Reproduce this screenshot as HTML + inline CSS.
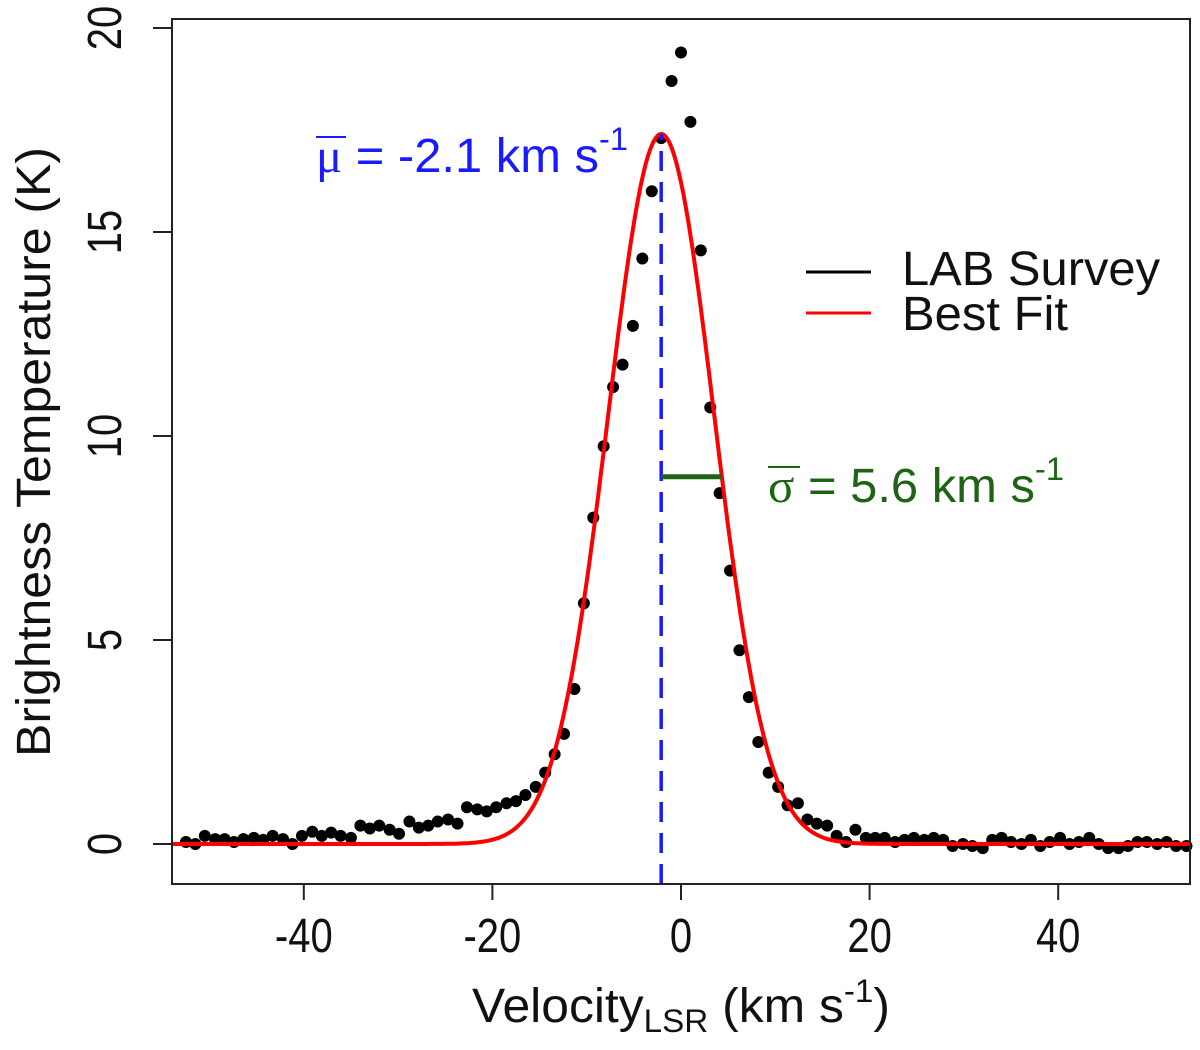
<!DOCTYPE html>
<html><head><meta charset="utf-8"><style>
html,body{margin:0;padding:0;background:#fff;}
svg text{font-family:"Liberation Sans",Arial,sans-serif;}
</style></head><body>
<svg id="chart" width="1200" height="1045" viewBox="0 0 1200 1045" xmlns="http://www.w3.org/2000/svg">
<rect x="0" y="0" width="1200" height="1045" fill="#fff"/>
<g id="marks"></g>
<rect x="172" y="19" width="1018" height="865" fill="none" stroke="#222" stroke-width="2"/>
<g id="axes"></g>
<text x="472" y="1022" font-size="48" fill="#111" textLength="418" lengthAdjust="spacingAndGlyphs">Velocity<tspan font-size="32" dy="10">LSR</tspan><tspan dy="-10"> (km s</tspan><tspan font-size="32" dy="-20">-1</tspan><tspan dy="20">)</tspan></text>
<text transform="translate(50,452) rotate(-90)" font-size="48" text-anchor="middle" fill="#111" textLength="610" lengthAdjust="spacingAndGlyphs">Brightness Temperature (K)</text>
<text x="316" y="172" font-size="48" fill="#1a1aff" textLength="312" lengthAdjust="spacingAndGlyphs"><tspan font-family="Liberation Serif" font-size="48">μ</tspan> = -2.1 km s<tspan font-size="32" dy="-22">-1</tspan></text>
<line x1="316" y1="137" x2="346" y2="137" stroke="#1a1aff" stroke-width="2"/>
<text x="768" y="502" font-size="48" fill="#1e6414" textLength="296" lengthAdjust="spacingAndGlyphs"><tspan font-family="Liberation Serif" font-size="48">σ</tspan> = 5.6 km s<tspan font-size="32" dy="-22">-1</tspan></text>
<line x1="768" y1="467" x2="800" y2="467" stroke="#1e6414" stroke-width="2"/>
<g>
<line x1="806" y1="272" x2="871" y2="272" stroke="#000" stroke-width="3"/>
<text x="902" y="285" font-size="48" fill="#111" textLength="258" lengthAdjust="spacingAndGlyphs">LAB Survey</text>
<line x1="806" y1="313" x2="871" y2="313" stroke="#f00" stroke-width="3"/>
<text x="902" y="330" font-size="48" fill="#111" textLength="166" lengthAdjust="spacingAndGlyphs">Best Fit</text>
</g>
</svg>
<script>
const velocities = [-52.5,-51.5,-50.5,-49.4,-48.4,-47.4,-46.4,-45.3,-44.3,-43.3,-42.2,-41.2,-40.2,-39.1,-38.1,-37.1,-36.1,-35.0,-34.0,-33.0,-32.0,-30.9,-29.9,-28.8,-27.8,-26.8,-25.8,-24.7,-23.7,-22.7,-21.6,-20.6,-19.6,-18.5,-17.5,-16.5,-15.4,-14.4,-13.4,-12.4,-11.3,-10.3,-9.3,-8.2,-7.2,-6.2,-5.1,-4.1,-3.1,-2.1,-1.0,0,1.0,2.1,3.1,4.1,5.2,6.2,7.2,8.2,9.3,10.3,11.3,12.4,13.4,14.4,15.5,16.5,17.5,18.5,19.6,20.6,21.6,22.7,23.7,24.7,25.8,26.8,27.8,28.8,29.9,30.9,32.0,33.0,34.0,35.0,36.1,37.1,38.1,39.1,40.2,41.2,42.2,43.3,44.3,45.3,46.4,47.4,48.4,49.4,50.5,51.5,52.5,53.6];
const temps = [0.05,0.0,0.2,0.12,0.12,0.05,0.12,0.15,0.1,0.2,0.12,0.0,0.2,0.3,0.2,0.28,0.2,0.15,0.45,0.38,0.45,0.35,0.25,0.55,0.4,0.45,0.55,0.6,0.5,0.9,0.85,0.8,0.9,1.0,1.05,1.2,1.4,1.75,2.2,2.7,3.8,5.9,8.0,9.75,11.2,11.75,12.7,14.35,16.0,17.3,18.7,19.4,17.7,14.55,10.7,8.6,6.7,4.75,3.6,2.5,1.75,1.4,0.95,1.0,0.6,0.5,0.45,0.2,0.05,0.35,0.15,0.15,0.15,0.05,0.1,0.15,0.1,0.15,0.1,-0.05,0.0,-0.05,-0.1,0.1,0.15,0.05,0.0,0.1,-0.05,0.05,0.15,0.0,0.05,0.15,0.0,-0.1,-0.1,-0.05,0.05,0.05,0.0,0.05,-0.05,-0.05];
const fitMean = [-2.1];
const fitAmp = [17.4];
const fitSigma = [5.6];
const sigmaBarEnd = [4.3];
const sigmaBarLevel = [9.0];
const xTicks = [-40,-20,0,20,40];
const yTicks = [0,5,10,15,20];

const NS = 'http://www.w3.org/2000/svg';
const xS = v => 681 + v * 9.43;
const yS = t => 844 - t * 40.8;
function mk(tag, attrs, parent) {
  const e = document.createElementNS(NS, tag);
  for (const k in attrs) e.setAttribute(k, attrs[k]);
  parent.appendChild(e);
  return e;
}
const marks = document.getElementById('marks');
const axes = document.getElementById('axes');

velocities.forEach((v, i) => {
  const c = mk('circle', {cx: xS(v), cy: yS(temps[i]), r: 6, fill: '#000'}, marks);
  
  
});

let d = '';
for (let v = -54; v <= 54.01; v += 0.25) {
  const t = fitAmp[0] * Math.exp(-0.5 * Math.pow((v - fitMean[0]) / fitSigma[0], 2));
  d += (d ? 'L' : 'M') + xS(v).toFixed(1) + ',' + yS(t).toFixed(1);
}
const fit = mk('path', {d: d, fill: 'none', stroke: '#f00', 'stroke-width': 4}, marks);



const ml = mk('line', {x1: xS(fitMean[0]), x2: xS(fitMean[0]), y1: 884, y2: yS(fitAmp[0]), stroke: '#1a1aff', 'stroke-width': 3.5, 'stroke-dasharray': '20,11'}, marks);



const sb = mk('line', {x1: xS(fitMean[0]), x2: xS(sigmaBarEnd[0]), y1: yS(sigmaBarLevel[0]), y2: yS(sigmaBarLevel[0]), stroke: '#1e6414', 'stroke-width': 5}, marks);



xTicks.forEach(v => {
  const tl = mk('line', {x1: xS(v), x2: xS(v), y1: 884, y2: 900, stroke: '#222', 'stroke-width': 2}, axes);
  
  
  const tx = mk('text', {x: xS(v), y: 0, 'font-size': 40, 'text-anchor': 'middle', fill: '#111', transform: 'translate(0,952) scale(1,1.2)'}, axes);
  tx.textContent = String(v);
  
  
});
yTicks.forEach(t => {
  const tl = mk('line', {x1: 153, x2: 172, y1: yS(t), y2: yS(t), stroke: '#222', 'stroke-width': 2}, axes);
  
  
  const tx = mk('text', {transform: 'translate(121,' + yS(t) + ') rotate(-90) scale(1,1.2)', 'font-size': 40, 'text-anchor': 'middle', fill: '#111'}, axes);
  tx.textContent = String(t);
  
  
});
</script>
</body></html>
